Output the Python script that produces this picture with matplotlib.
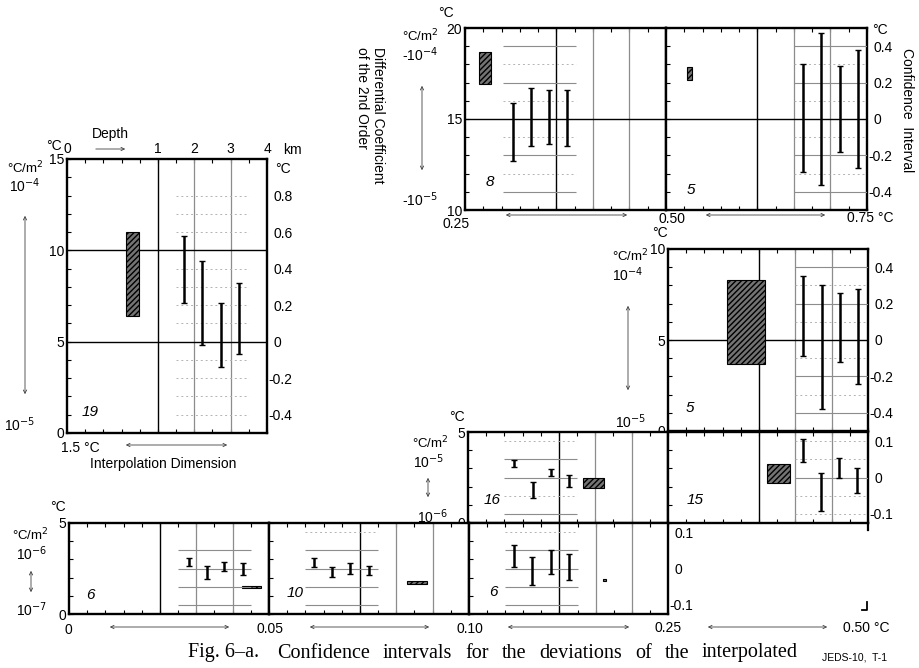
#!/usr/bin/env python3
"""
Fig. 6-a: intervalos de confianza de las desviaciones interpoladas.
"""
import matplotlib
matplotlib.use('Agg')
import matplotlib.pyplot as plt
from matplotlib.patches import Rectangle, FancyArrowPatch
from matplotlib.lines import Line2D
from matplotlib.transforms import ScaledTranslation

plt.rcParams['font.family'] = 'Liberation Sans'
plt.rcParams['font.size'] = 10

W, H = 919, 668

# --- datos ---
# barras: posición en la celda (unidades de rejilla), límites inferior/superior en °C
# caja: x0, x1, y0, y1 (coeficiente diferencial de 2º orden, escala izquierda)
p19_x = [6.45, 7.45, 8.45, 9.45]
p19_lo = [0.21, -0.02, -0.14, -0.07]
p19_hi = [0.58, 0.44, 0.21, 0.32]
p19_caja = [3.25, 3.95, 6.4, 11.0]

p8_x = [2.6, 3.6, 4.6, 5.6]
p8_lo = [-0.23, -0.15, -0.14, -0.15]
p8_hi = [0.09, 0.17, 0.16, 0.16]
p8_caja = [0.75, 1.45, 16.9, 18.7]

p5a_x = [7.5, 8.5, 9.5, 10.5]
p5a_lo = [-0.29, -0.36, -0.18, -0.27]
p5a_hi = [0.30, 0.47, 0.29, 0.38]
p5a_caja = [1.15, 1.45, 17.15, 17.85]

p5b_x = [7.45, 8.45, 9.45, 10.45]
p5b_lo = [-0.09, -0.38, -0.12, -0.24]
p5b_hi = [0.35, 0.30, 0.26, 0.28]
p5b_caja = [3.25, 5.35, 3.7, 8.3]

p16_x = [2.55, 3.55, 4.55, 5.55]
p16_lo = [0.028, -0.055, 0.003, -0.025]
p16_hi = [0.047, -0.011, 0.022, 0.006]
p16_caja = [6.3, 7.5, 1.9, 2.45]

p15_x = [7.4, 8.4, 9.4, 10.4]
p15_lo = [0.042, -0.092, 0.0, -0.042]
p15_hi = [0.106, 0.011, 0.053, 0.025]
p15_caja = [5.45, 6.7, 2.2, 3.25]

b1_x = [6.6, 7.6, 8.55, 9.55]
b1_lo = [0.006, -0.028, -0.008, -0.017]
b1_hi = [0.028, 0.006, 0.017, 0.014]
b1_caja = [9.5, 10.55, 1.44, 1.52]

b2_x = [2.45, 3.45, 4.45, 5.5]
b2_lo = [0.003, -0.022, -0.014, -0.019]
b2_hi = [0.028, 0.003, 0.014, 0.006]
b2_caja = [7.6, 8.7, 1.65, 1.8]

b3_x = [2.5, 3.5, 4.55, 5.55]
b3_lo = [0.003, -0.044, -0.014, -0.031]
b3_hi = [0.064, 0.031, 0.05, 0.039]
b3_caja = [7.4, 7.6, 1.8, 1.92]

prof_labels = ['0', '1', '2', '3', '4']
der_grande = ['0.8', '0.6', '0.4', '0.2', '0', '-0.2', '-0.4']
der_media = ['0.4', '0.2', '0', '-0.2', '-0.4']
der_chica = ['0.1', '0', '-0.1']

leyenda = ['Fig. 6\u2013a. ', 'Confidence', 'intervals', 'for', 'the', 'deviations',
           'of', 'the', 'interpolated']


def fx(x):
    return x / W


def fy(y):
    return 1 - y / H


def texto(fig, x, y, s, **kw):
    kw.setdefault('ha', 'center')
    kw.setdefault('va', 'center')
    return fig.text(fx(x), fy(y), s, **kw)


def flecha(fig, x0, y0, x1, y1, estilo='<->'):
    fig.add_artist(FancyArrowPatch((fx(x0), fy(y0)), (fx(x1), fy(y1)),
                                   transform=fig.transFigure, arrowstyle=estilo,
                                   mutation_scale=6, lw=0.6, color='0.25'))


def linea(fig, xs, ys, lw=1.6):
    fig.add_artist(Line2D([fx(x) for x in xs], [fy(y) for y in ys],
                          transform=fig.transFigure, color='black', lw=lw))


def justificar(fig, palabras, x0, x1, y, **kw):
    """Reparte las palabras entre x0 y x1 (texto justificado)."""
    r = fig.canvas.get_renderer()
    objs = [texto(fig, x0, y, p, ha='left', **kw) for p in palabras]
    anchos = [o.get_window_extent(r).width for o in objs]
    hueco = (x1 - x0 - sum(anchos)) / (len(palabras) - 1)
    x = x0
    for o, a in zip(objs, anchos):
        o.set_x(fx(x))
        x += a + hueco


def panel(fig, caja_px, ylim, clim, xs, lo, hi, caja, llenas=(), grises=(),
          punteadas=(), tramo=(2, 6), izq=(), der=None):
    x0, y0, x1, y1 = caja_px
    ax = fig.add_axes([fx(x0), fy(y1), (x1 - x0) / W, (y1 - y0) / H])
    ax.set_xlim(0, 11)
    ax.set_ylim(*ylim)
    ax.set_xticks(range(12))
    ax.set_xticklabels([])
    vals = list(range(ylim[0], ylim[1] + 1))
    ax.set_yticks(vals)
    ax.set_yticklabels([str(v) if v in izq else '' for v in vals])
    ax.tick_params(direction='in', length=3, width=0.8, top=True, bottom=True,
                   left=True, right=False, pad=2, labelsize=10)
    for s in ax.spines.values():
        s.set_linewidth(1.7)
    ax.axvline(5, color='black', lw=1.0)
    ax.axvline(7, color='0.55', lw=0.9)
    ax.axvline(9, color='0.55', lw=0.9)
    for v in llenas:
        ax.axhline(v, color='black', lw=1.0)
    ax.add_patch(Rectangle((caja[0], caja[2]), caja[1] - caja[0], caja[3] - caja[2],
                           facecolor='0.45', edgecolor='black', hatch='//////',
                           lw=0.8, zorder=3))

    ax2 = ax.twinx()
    ax2.set_ylim(*clim)
    if grises:
        ax2.hlines(grises, tramo[0], tramo[1], color='0.55', lw=0.8)
    if punteadas:
        ax2.hlines(punteadas, tramo[0], tramo[1], color='0.7', lw=0.7,
                   linestyles=(0, (2, 3)))
    mid = [(a + b) / 2 for a, b in zip(lo, hi)]
    err = [[m - a for m, a in zip(mid, lo)], [b - m for m, b in zip(mid, hi)]]
    ax2.errorbar(xs, mid, yerr=err, fmt='none', ecolor='black', elinewidth=1.8,
                 capsize=2.5, capthick=1.0)
    for s in ax2.spines.values():
        s.set_visible(False)
    if der:
        ax2.set_yticks([float(t) for t in der])
        ax2.set_yticklabels(der)
        ax2.tick_params(axis='y', length=0, pad=5, labelsize=10)
        for lbl in ax2.get_yticklabels():
            if lbl.get_text().startswith('-'):
                lbl.set_transform(lbl.get_transform() +
                                  ScaledTranslation(-4 / 72, 0, fig.dpi_scale_trans))
    else:
        ax2.set_yticks([])
    return ax, ax2


def main():
    fig = plt.figure(figsize=(W / 100, H / 100), dpi=100)

    # panel 19 (1.5 °C)
    ax, _ = panel(fig, (67, 159, 267, 433), (0, 15), (-0.5, 1.0), p19_x, p19_lo, p19_hi,
                  p19_caja, llenas=(5, 10),
                  punteadas=[-0.4, -0.3, -0.2, -0.1, 0.1, 0.2, 0.3, 0.4, 0.6, 0.7, 0.8],
                  tramo=(6, 10), izq=(0, 5, 10, 15), der=der_grande)
    top = ax.secondary_xaxis('top')
    top.set_xticks([0, 5, 7, 9, 11])
    top.set_xticklabels(prof_labels)
    top.tick_params(length=0, pad=2, labelsize=10)
    top.spines['top'].set_visible(False)
    texto(fig, 283, 150, 'km', ha='left')
    texto(fig, 110, 134, 'Depth')
    flecha(fig, 93, 149, 128, 149, '->')
    texto(fig, 54, 146, '°C')
    texto(fig, 25, 168, '°C/m$^2$', fontsize=9.5)
    texto(fig, 25, 186, '10$^{-4}$')
    flecha(fig, 25, 213, 25, 397)
    texto(fig, 20, 425, '10$^{-5}$')
    texto(fig, 283, 169, '°C')
    texto(fig, 80, 448, '1.5 °C')
    flecha(fig, 123, 445, 230, 445)
    texto(fig, 163, 464, 'Interpolation Dimension')
    texto(fig, 90, 412, '19', style='italic', fontsize=11)

    # fila superior: 0.25-0.50 y 0.50-0.75 °C
    panel(fig, (465, 28, 666, 210), (10, 20), (-0.5, 0.5), p8_x, p8_lo, p8_hi, p8_caja,
          llenas=(15,), grises=[-0.4, -0.2, 0.2, 0.4], punteadas=[-0.3, -0.1, 0.1, 0.3],
          tramo=(2.1, 6.1), izq=(10, 15, 20))
    panel(fig, (666, 28, 867, 210), (10, 20), (-0.5, 0.5), p5a_x, p5a_lo, p5a_hi, p5a_caja,
          llenas=(15,), grises=[-0.4, -0.2, 0.2, 0.4], punteadas=[-0.3, -0.1, 0.1, 0.3],
          tramo=(7, 11), der=der_media)
    texto(fig, 446, 13, '°C')
    texto(fig, 420, 36, '°C/m$^2$', fontsize=9.5)
    texto(fig, 420, 55, '-10$^{-4}$')
    flecha(fig, 422, 83, 422, 173)
    texto(fig, 420, 200, '-10$^{-5}$')
    texto(fig, 378, 47, 'Differential Coefficient', rotation=270,
          rotation_mode='anchor', ha='left', va='center')
    texto(fig, 362, 47, 'of the 2nd Order', rotation=270,
          rotation_mode='anchor', ha='left', va='center')
    texto(fig, 456, 224, '0.25')
    flecha(fig, 503, 215, 630, 215)
    texto(fig, 490, 182, '8', style='italic', fontsize=11)
    texto(fig, 691, 190, '5', style='italic', fontsize=11)
    texto(fig, 880, 30, '°C')
    texto(fig, 907, 110, 'Confidence  Interval', rotation=270)
    texto(fig, 672, 219, '0.50')
    flecha(fig, 703, 215, 828, 215)
    texto(fig, 870, 218, '0.75 °C')

    # panel central derecho
    panel(fig, (668, 249, 868, 431), (0, 10), (-0.5, 0.5), p5b_x, p5b_lo, p5b_hi, p5b_caja,
          llenas=(5,), grises=[-0.4, -0.2, 0.2, 0.4], punteadas=[-0.3, -0.1, 0.1, 0.3],
          tramo=(7, 11), izq=(0, 5, 10), der=der_media)
    texto(fig, 660, 233, '°C')
    texto(fig, 630, 256, '°C/m$^2$', fontsize=9.5)
    texto(fig, 628, 275, '10$^{-4}$')
    flecha(fig, 628, 303, 628, 393)
    texto(fig, 631, 422, '10$^{-5}$')
    texto(fig, 690, 408, '5', style='italic', fontsize=11)

    # paneles 16 y 15
    panel(fig, (468, 432, 668, 523), (0, 5), (-0.125, 0.125), p16_x, p16_lo, p16_hi,
          p16_caja, grises=[-0.1, 0, 0.05], punteadas=[-0.05, 0.1], tramo=(2, 6),
          izq=(0, 5))
    panel(fig, (668, 432, 868, 523), (0, 5), (-0.125, 0.125), p15_x, p15_lo, p15_hi,
          p15_caja, grises=[0], punteadas=[-0.1, -0.05, 0.05, 0.1], tramo=(7, 11),
          der=der_chica)
    texto(fig, 457, 417, '°C')
    texto(fig, 430, 443, '°C/m$^2$', fontsize=9.5)
    texto(fig, 429, 462, '10$^{-5}$')
    flecha(fig, 428, 475, 428, 500)
    texto(fig, 433, 517, '10$^{-6}$')
    texto(fig, 492, 500, '16', style='italic', fontsize=11)
    texto(fig, 695, 500, '15', style='italic', fontsize=11)
    linea(fig, [868, 868], [523, 530])

    # fila inferior: 0-0.05, 0.05-0.10, 0.10-0.25 °C
    panel(fig, (69, 523, 269, 614), (0, 5), (-0.125, 0.125), b1_x, b1_lo, b1_hi, b1_caja,
          grises=[-0.1, -0.05, 0, 0.05], tramo=(6, 10), izq=(0, 5))
    panel(fig, (269, 523, 469, 614), (0, 5), (-0.125, 0.125), b2_x, b2_lo, b2_hi, b2_caja,
          grises=[-0.1, -0.05, 0, 0.05], punteadas=[0.1], tramo=(2, 6))
    panel(fig, (469, 523, 668, 614), (0, 5), (-0.125, 0.125), b3_x, b3_lo, b3_hi, b3_caja,
          grises=[-0.1, -0.05, 0, 0.05], punteadas=[0.1], tramo=(2, 6), der=der_chica)
    texto(fig, 58, 507, '°C')
    texto(fig, 30, 535, '°C/m$^2$', fontsize=9.5)
    texto(fig, 32, 554, '10$^{-6}$')
    flecha(fig, 31, 568, 31, 595)
    texto(fig, 32, 610, '10$^{-7}$')
    texto(fig, 90, 595, '6', style='italic', fontsize=11)
    texto(fig, 295, 593, '10', style='italic', fontsize=11)
    texto(fig, 493, 592, '6', style='italic', fontsize=11)

    texto(fig, 68, 630, '0')
    texto(fig, 270, 629, '0.05')
    texto(fig, 470, 629, '0.10')
    texto(fig, 668, 628, '0.25')
    texto(fig, 866, 628, '0.50 °C')
    for a, b in [(107, 232), (307, 432), (505, 632), (705, 830)]:
        flecha(fig, a, 627, b, 627)
    linea(fig, [862, 867, 867], [610, 610, 602], lw=1.3)

    texto(fig, 855, 657, 'JEDS-10,  T-1', fontsize=7.5)
    justificar(fig, leyenda, 188, 798, 653, family='Liberation Serif', fontsize=14.5)

    fig.savefig('out.png', dpi=100)
    plt.close(fig)


if __name__ == "__main__":
    main()
